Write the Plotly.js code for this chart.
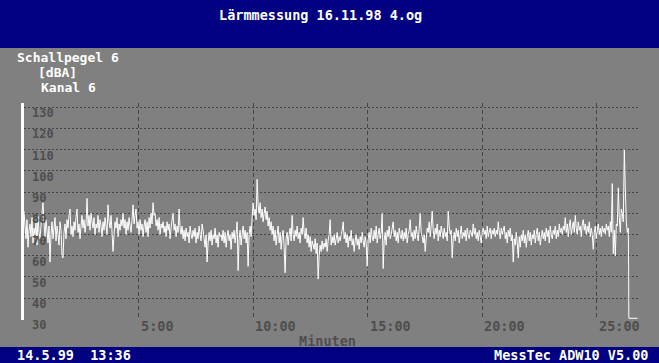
<!DOCTYPE html>
<html>
<head>
<meta charset="utf-8">
<script src="https://cdn.plot.ly/plotly-3.0.1.min.js"></script>
<style>
html,body{margin:0;padding:0;background:#808080;}
#chart{width:659px;height:363px;}
</style>
</head>
<body>
<div id="chart"></div>
<script>
// ---- data ----
const sampleStepMin = 0.04367; // sample interval, minutes
const levelValues = [
81,74,68,77,64,72,75,69,78,66,
73,70,76,65,79,71,68,74,80,85,
75,69,77,72,66,74,57,70,76,68,
73,78,67,74,70,65,76,72,60,59,
71,75,68,77,73,79,82,70,74,69,
76,72,78,82,71,75,68,74,79,73,
77,71,75,87,74,79,72,80,76,73,
78,70,75,73,79,71,77,74,69,76,
72,78,74,70,84,76,73,79,71,62,
70,76,73,78,69,75,72,77,74,80,
73,77,70,76,72,78,74,71,77,84,
75,79,82,73,76,70,77,72,75,69,
74,77,71,76,69,78,73,80,75,85,
79,80,74,77,72,78,70,75,73,76,
71,74,69,76,72,75,68,73,77,80,
72,75,69,74,71,82,73,70,74,68,
72,67,73,69,71,66,74,70,68,72,
69,73,66,71,68,74,70,67,75,72,
68,64,70,57,66,71,67,72,65,70,
68,73,66,70,64,71,69,70,67,72,
66,71,64,69,72,67,70,63,71,68,
72,66,70,76,53,68,72,65,70,74,
68,72,66,71,55,70,74,69,78,85,
79,82,77,96,84,80,85,78,82,76,
80,83,77,81,74,78,72,76,70,74,
67,72,65,70,74,66,71,63,69,72,
64,52,68,71,65,70,73,67,79,70,
67,72,69,74,68,71,66,73,70,78,
71,68,73,66,70,64,69,62,67,65,
63,68,61,66,49,60,65,62,67,63,
66,64,68,62,67,70,77,65,69,66,
70,65,68,71,66,69,67,70,72,76,
68,71,66,70,64,69,67,72,65,68,
62,67,70,65,68,63,69,66,71,67,
64,69,66,55,68,71,66,73,69,67,
72,68,74,66,70,73,68,71,80,54,
67,71,65,72,69,74,68,70,73,76,
69,72,67,71,66,73,70,68,72,67,
71,68,73,66,70,72,77,69,71,67,
72,68,74,70,67,73,80,71,69,66,
70,62,68,73,71,76,69,74,81,72,
68,73,70,75,67,72,69,74,71,68,
73,69,71,67,81,74,70,72,59,68,
71,67,73,69,72,66,70,74,68,71,
69,72,67,73,70,68,72,71,69,75,
70,73,68,71,67,72,69,66,71,73,
70,72,68,74,69,71,73,68,72,70,
73,69,72,70,76,71,68,73,70,72,
74,68,71,66,72,69,73,67,70,57,
68,65,71,66,59,69,64,70,67,72,
66,70,64,69,72,67,71,65,70,68,
72,66,70,73,67,71,65,69,72,68,
71,67,73,69,72,66,74,70,68,72,
70,74,68,72,69,75,71,73,70,74,
72,78,71,75,69,74,77,70,73,76,
71,79,73,70,76,72,74,69,75,77,
72,75,70,74,71,76,69,73,70,63,
71,74,68,72,75,70,73,69,74,71,
73,70,75,72,74,69,76,71,94,61,
72,60,75,74,92,78,71,82,80,76,
110,92,76,71,73
];
const tailMinutes = [26.39, 26.40, 26.78];
const tailValues  = [55, 30.5, 30.5];

const yTickValues = [30,40,50,60,70,80,90,100,110,120,130];
const yTickLabels = ["30","40","50","60","70","80","90","100","110","120","130"];
const xTickValues = [5,10,15,20,25];
const xTickLabels = ["5:00","10:00","15:00","20:00","25:00"];

const titleText = "Lärmmessung 16.11.98 4.og";
const channelLines = ["Schallpegel 6","[dBA]","Kanal 6"];
const xAxisText = "Minuten";
const footerLeft = "14.5.99  13:36";
const footerRight = "MessTec ADW10 V5.00";

// ---- build ----
const xs = levelValues.map((_, i) => i * sampleStepMin).concat(tailMinutes);
const ys = levelValues.concat(tailValues);

const W = 659, H = 363;
const L = 24, R = 21, T = 103, B = 43;
const pw = W - L - R, ph = H - T - B;
const px = x => (x - L) / pw;           // page px -> paper x
const py = y => (H - B - y) / ph;       // page px -> paper y

const mono = "DejaVu Sans Mono, Liberation Mono, monospace";
const whiteFont = {family: mono, size: 13.5, color: "#ffffff", weight: "bold"};
const labelFont = {family: mono, size: 13, color: "#ffffff", weight: "bold"};
const tickFontY = {family: mono, size: 12, color: "#4e4e4e", weight: "bold"};
const tickFontX = {family: mono, size: 13.5, color: "#4e4e4e", weight: "bold"};

const annotations = [];
annotations.push({xref:"paper", yref:"paper", x:px(320), y:py(15), text:titleText,
  showarrow:false, xanchor:"center", yanchor:"middle", font:whiteFont, borderpad:0});
const chY = [57, 72, 87], chX = [16, 37, 40];
channelLines.forEach((t, i) => annotations.push({xref:"paper", yref:"paper", x:px(chX[i]), y:py(chY[i]),
  text:t, showarrow:false, xanchor:"left", yanchor:"middle", font:labelFont, borderpad:0}));
yTickValues.forEach((v, i) => annotations.push({xref:"paper", yref:"y", x:px(31), y:v, yshift:-6,
  text:yTickLabels[i], showarrow:false, xanchor:"left", yanchor:"middle", font:tickFontY, borderpad:0}));
xTickValues.forEach((v, i) => annotations.push({xref:"x", yref:"paper", x:v, xshift:1, y:py(326),
  text:xTickLabels[i], showarrow:false, xanchor:"left", yanchor:"middle", font:tickFontX, borderpad:0}));
annotations.push({xref:"paper", yref:"paper", x:px(298), y:py(341), text:xAxisText,
  showarrow:false, xanchor:"left", yanchor:"middle", font:tickFontX, borderpad:0});
annotations.push({xref:"paper", yref:"paper", x:px(16), y:py(355), text:footerLeft,
  showarrow:false, xanchor:"left", yanchor:"middle", font:whiteFont, borderpad:0});
annotations.push({xref:"paper", yref:"paper", x:px(649), y:py(355), text:footerRight,
  showarrow:false, xanchor:"right", yanchor:"middle", font:whiteFont, borderpad:0});

const shapes = [
  {type:"rect", xref:"paper", yref:"paper", x0:px(0), x1:px(W), y0:py(48), y1:py(0),
   fillcolor:"#000080", line:{width:0}, layer:"above"},
  {type:"rect", xref:"paper", yref:"paper", x0:px(0), x1:px(W), y0:py(H), y1:py(347),
   fillcolor:"#000080", line:{width:0}, layer:"above"}
];

const trace = {x: xs, y: ys, type:"scatter", mode:"lines",
  line:{color:"#ffffff", width:1, simplify:false}, hoverinfo:"skip"};

const layout = {
  width: W, height: H,
  margin: {l:L, r:R, t:T, b:B, pad:0},
  paper_bgcolor: "#808080", plot_bgcolor: "#808080",
  showlegend: false,
  xaxis: {range:[0, 26.8], tickvals:xTickValues, showticklabels:false, ticks:"",
    showgrid:true, gridcolor:"#444444", gridwidth:1, griddash:"4px,3px",
    zeroline:false, showline:false, fixedrange:true},
  yaxis: {range:[29.7, 132], tickvals:yTickValues, showticklabels:false, ticks:"",
    showgrid:true, gridcolor:"#444444", gridwidth:1, griddash:"2px,2px",
    zeroline:false, showline:true, linecolor:"#ffffff", linewidth:3, fixedrange:true},
  annotations: annotations,
  shapes: shapes
};

Plotly.newPlot("chart", [trace], layout, {staticPlot:true, displayModeBar:false});
</script>
</body>
</html>
